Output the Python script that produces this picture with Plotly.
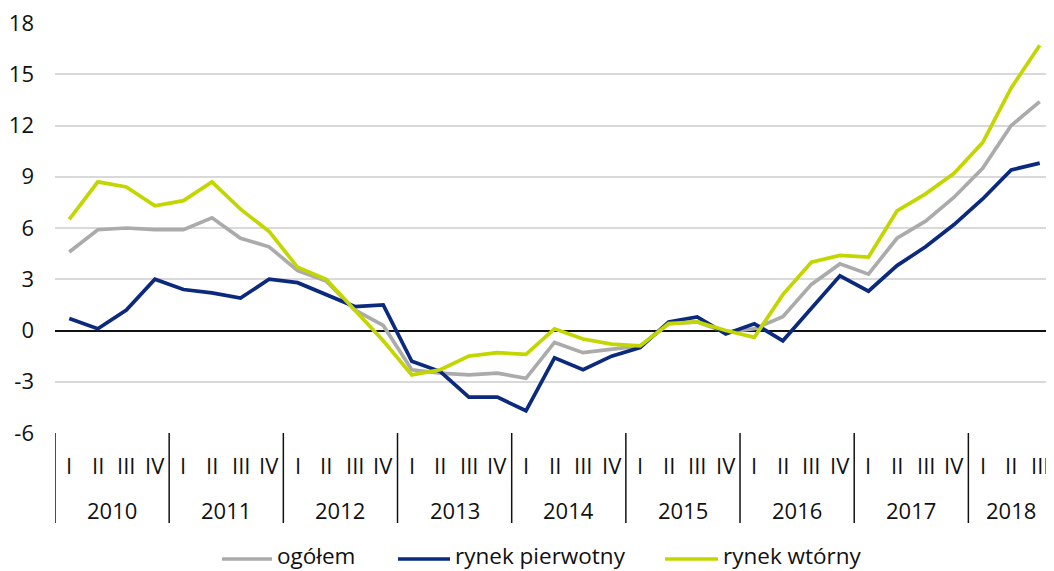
import plotly.graph_objects as go

years = ["2010"] * 4 + ["2011"] * 4 + ["2012"] * 4 + ["2013"] * 4 + ["2014"] * 4 + \
        ["2015"] * 4 + ["2016"] * 4 + ["2017"] * 4 + ["2018"] * 3
quarters = ["I", "II", "III", "IV"] * 8 + ["I", "II", "III"]

ogolem = [4.6, 5.9, 6.0, 5.9, 5.9, 6.6, 5.4, 4.9, 3.5, 2.9, 1.2, 0.3,
          -2.3, -2.5, -2.6, -2.5, -2.8, -0.7, -1.3, -1.1, -0.9, 0.4, 0.5, -0.1,
          0.1, 0.8, 2.7, 3.9, 3.3, 5.4, 6.4, 7.8, 9.5, 12.0, 13.4]
pierwotny = [0.7, 0.1, 1.2, 3.0, 2.4, 2.2, 1.9, 3.0, 2.8, 2.1, 1.4, 1.5,
             -1.8, -2.4, -3.9, -3.9, -4.7, -1.6, -2.3, -1.5, -1.0, 0.5, 0.8, -0.2,
             0.4, -0.6, 1.3, 3.2, 2.3, 3.8, 4.9, 6.2, 7.7, 9.4, 9.8]
wtorny = [6.5, 8.7, 8.4, 7.3, 7.6, 8.7, 7.1, 5.8, 3.7, 3.0, 1.2, -0.6,
          -2.6, -2.3, -1.5, -1.3, -1.4, 0.1, -0.5, -0.8, -0.9, 0.4, 0.5, 0.0,
          -0.4, 2.1, 4.0, 4.4, 4.3, 7.0, 8.0, 9.2, 11.0, 14.2, 16.7]

y_ticks = [-6, -3, 0, 3, 6, 9, 12, 15, 18]

series_names = ["ogółem", "rynek pierwotny", "rynek wtórny"]
series_values = [ogolem, pierwotny, wtorny]
series_colors = ["#ABABAB", "#0B2A7E", "#C3D600"]

FONT = "Open Sans"
TXT = "#111111"

# page has an 8px body margin; figure coordinates = page coordinates - 8
W, H = 1046, 563
LEFT, TOP, BOT = 47, 15, 425
PW = W - LEFT
PH = BOT - TOP


def py(pix):
    return (BOT - pix) / PH


def px(pix):
    return (pix - LEFT) / PW


cats = [f"{y} {q}" for y, q in zip(years, quarters)]

fig = go.Figure()
for name, vals, color in zip(series_names, series_values, series_colors):
    fig.add_trace(go.Scatter(
        x=cats, y=vals, name=name, mode="lines",
        line=dict(color=color, width=3.7), showlegend=False,
    ))

annotations = []
shapes = []
# quarter labels
for c, q in zip(cats, quarters):
    annotations.append(dict(x=c, y=py(457), xref="x", yref="paper", text=q,
                            showarrow=False, font=dict(family=FONT, size=22, color=TXT),
                            xanchor="center", yanchor="middle"))

# year groups
uniq_years = []
for y in years:
    if y not in uniq_years:
        uniq_years.append(y)
for y in uniq_years:
    idx = [i for i, yy in enumerate(years) if yy == y]
    start, end = idx[0], idx[-1]
    mid = (start + end) / 2
    annotations.append(dict(x=mid, y=py(502), xref="x", yref="paper", text=y,
                            showarrow=False, font=dict(family=FONT, size=22, color=TXT),
                            xanchor="center", yanchor="middle"))
    shapes.append(dict(type="line", xref="x", yref="paper", x0=start - 0.5, x1=start - 0.5,
                       y0=0, y1=py(515), line=dict(color=TXT, width=1.5)))

# legend (drawn manually to match the long line samples)
legend_pos = [(214, 264), (390, 442), (657, 710)]
for (x0, x1), name, color in zip(legend_pos, series_names, series_colors):
    shapes.append(dict(type="line", xref="paper", yref="paper", x0=px(x0), x1=px(x1),
                       y0=py(551), y1=py(551), line=dict(color=color, width=3.7)))
    annotations.append(dict(x=px(x1 + 3), y=py(547), xref="paper", yref="paper", text=name,
                            showarrow=False, font=dict(family=FONT, size=22.5, color=TXT),
                            xanchor="left", yanchor="middle"))

fig.update_layout(
    width=W, height=H,
    margin=dict(l=LEFT, r=0, t=TOP, b=H - BOT, autoexpand=False),
    paper_bgcolor="white", plot_bgcolor="white",
    font=dict(family=FONT, size=22, color=TXT),
    showlegend=False,
    hovermode=False,
    annotations=annotations,
    shapes=shapes,
)
fig.update_yaxes(
    range=[-6, 18], tickvals=y_ticks, ticktext=[str(v) for v in y_ticks],
    showgrid=True, gridcolor="#D9D9D9", gridwidth=1.5,
    zeroline=True, zerolinecolor=TXT, zerolinewidth=1.5,
    showline=False, ticks="", ticklabelstandoff=20, ticklabeloverflow="allow",
    tickfont=dict(family=FONT, size=22, color=TXT),
)
fig.update_xaxes(
    type="category", range=[-0.5, len(cats) - 0.5], showgrid=False, showline=False,
    ticks="", showticklabels=False, zeroline=False,
)

fig.write_html("out.html")
